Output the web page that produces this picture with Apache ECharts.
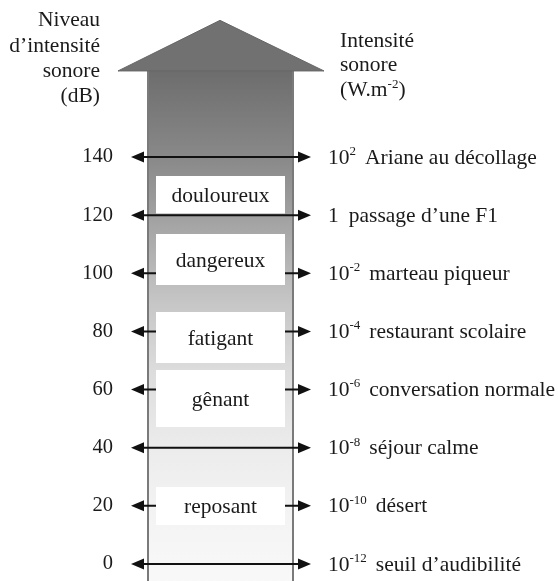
<!DOCTYPE html>
<html><head><meta charset="utf-8">
<script src="https://cdn.jsdelivr.net/npm/echarts@6/dist/echarts.min.js"></script>
<style>html,body{margin:0;padding:0;background:#fff}#c{width:558px;height:581px}</style>
</head><body><div id="c"></div>
<script>
// ---- data ----
const levelsDb = [0, 20, 40, 60, 80, 100, 120, 140];
const intensityExp = [-12, -10, -8, -6, -4, -2, 0, 2];
const examples = ['seuil d’audibilité', 'désert', 'séjour calme', 'conversation normale',
  'restaurant scolaire', 'marteau piqueur', 'passage d’une F1', 'Ariane au décollage'];
const zoneNames = ['douloureux', 'dangereux', 'fatigant', 'gênant', 'reposant'];
const zoneHigh = [133.5, 113.5, 86.7, 66.7, 26.5];
const zoneLow = [120.6, 96, 69.1, 47.1, 13.4];
const leftTitle = ['Niveau', 'd’intensité', 'sonore', '(dB)'];
const rightTitle = ['Intensité', 'sonore'];
const rightUnit = ['(W.m', '-2', ')'];

// ---- layout (x axis value == pixel column) ----
const SHAFT_L = 148, SHAFT_R = 293, HEAD_L = 118, HEAD_R = 324, TIP_X = 220;
const TIP_V = 187, BASE_V = 169.6, BOTTOM_V = -8;
const ARR_L = 131, ARR_R = 311, HEAD_LEN = 13, HEAD_HALF = 5.5;
const BOX_L = 156, BOX_R = 285, LABEL_X = 328;
const FONT = '"Liberation Serif", "Times New Roman", serif';
const INK = '#1a1a1a';
const FS = 21.5;

const chart = echarts.init(document.getElementById('c'), null, {renderer: 'canvas'});

const richStyles = {
  b: {fontFamily: FONT, fontSize: FS, lineHeight: 26, fill: INK, color: INK},
  s: {fontFamily: FONT, fontSize: 13, lineHeight: 13, verticalAlign: 'top', fill: INK, color: INK},
  d: {fontFamily: FONT, fontSize: FS, lineHeight: 26, fill: INK, color: INK, padding: [0, 0, 0, 9]},
  d0: {fontFamily: FONT, fontSize: FS, lineHeight: 26, fill: INK, color: INK, padding: [0, 0, 0, 10]}
};

const shaftGradient = new echarts.graphic.LinearGradient(0, 0, 0, 1, [
  {offset: 0, color: '#6d6d6d'},
  {offset: 0.169, color: '#898989'},
  {offset: 0.30, color: '#a5a5a5'},
  {offset: 0.45, color: '#c6c6c6'},
  {offset: 0.58, color: '#dcdcdc'},
  {offset: 0.72, color: '#ebebeb'},
  {offset: 0.85, color: '#f3f3f3'},
  {offset: 1, color: '#f9f9f9'}
]);

const option = {
  animation: false,
  backgroundColor: '#ffffff',
  grid: {left: 121, right: 0, top: 157, bottom: 17},
  xAxis: {type: 'value', min: 121, max: 558, show: false},
  yAxis: {
    type: 'value', min: 0, max: 140, interval: 20,
    axisLine: {show: false}, axisTick: {show: false}, splitLine: {show: false},
    axisLabel: {fontFamily: FONT, fontSize: 20.5, color: INK, margin: 8}
  },
  graphic: [
    {
      type: 'text', x: 100, y: 8,
      style: {
        text: leftTitle.join('\n'), font: FS + 'px ' + FONT, fill: INK,
        align: 'right', textAlign: 'right', verticalAlign: 'top', textVerticalAlign: 'top',
        lineHeight: 25.3
      }
    },
    {
      type: 'text', x: 340, y: 29,
      style: {
        text: rightTitle.map(t => '{t|' + t + '}').join('\n') + '\n{t|' + rightUnit[0] + '}{s|' + rightUnit[1] + '}{t|' + rightUnit[2] + '}',
        align: 'left', textAlign: 'left', verticalAlign: 'top', textVerticalAlign: 'top',
        rich: {
          t: {fontFamily: FONT, fontSize: FS, lineHeight: 24.5, fill: INK, color: INK},
          s: {fontFamily: FONT, fontSize: 13, lineHeight: 13, verticalAlign: 'top', fill: INK, color: INK}
        }
      }
    }
  ],
  series: [
    {
      type: 'custom', name: 'arrow', clip: false, z: 1,
      data: [[0, 0]],
      renderItem: function (params, api) {
        const p = (x, v) => api.coord([x, v]);
        const tip = p(TIP_X, TIP_V), hl = p(HEAD_L, BASE_V), hr = p(HEAD_R, BASE_V);
        const sl = p(SHAFT_L, BASE_V), sr = p(SHAFT_R, BASE_V);
        const bl = p(SHAFT_L, BOTTOM_V), br = p(SHAFT_R, BOTTOM_V);
        return {
          type: 'group', children: [
            {type: 'polygon', shape: {points: [sl, sr, br, bl]}, style: {fill: shaftGradient}},
            {type: 'line', shape: {x1: sl[0], y1: sl[1], x2: bl[0], y2: bl[1]}, style: {stroke: '#7a7a7a', lineWidth: 2}},
            {type: 'line', shape: {x1: sr[0], y1: sr[1], x2: br[0], y2: br[1]}, style: {stroke: '#7a7a7a', lineWidth: 2}},
            {type: 'polygon', shape: {points: [tip, hr, hl]}, style: {fill: '#717171', stroke: '#666666', lineWidth: 1}}
          ]
        };
      }
    },
    {
      type: 'custom', name: 'levels', clip: false, z: 2,
      data: levelsDb.map((v, i) => [0, v, i]),
      renderItem: function (params, api) {
        const v = api.value(1);
        const a = api.coord([ARR_L, v]), b = api.coord([ARR_R, v]);
        const y = a[1];
        return {
          type: 'group', children: [
            {type: 'line', shape: {x1: a[0] + HEAD_LEN - 1, y1: y, x2: b[0] - HEAD_LEN + 1, y2: y}, style: {stroke: '#111', lineWidth: 2}},
            {type: 'polygon', shape: {points: [[a[0], y], [a[0] + HEAD_LEN, y - HEAD_HALF], [a[0] + HEAD_LEN, y + HEAD_HALF]]}, style: {fill: '#111'}},
            {type: 'polygon', shape: {points: [[b[0], y], [b[0] - HEAD_LEN, y - HEAD_HALF], [b[0] - HEAD_LEN, y + HEAD_HALF]]}, style: {fill: '#111'}}
          ]
        };
      }
    },
    {
      type: 'custom', name: 'zones', clip: false, z: 3,
      data: zoneNames.map((n, i) => [zoneLow[i], zoneHigh[i], i]),
      renderItem: function (params, api) {
        const i = api.value(2);
        const tl = api.coord([BOX_L, api.value(1)]), br = api.coord([BOX_R, api.value(0)]);
        return {
          type: 'group', children: [
            {type: 'rect', shape: {x: tl[0], y: tl[1], width: br[0] - tl[0], height: br[1] - tl[1]}, style: {fill: '#ffffff'}},
            {type: 'text', x: (tl[0] + br[0]) / 2, y: (tl[1] + br[1]) / 2 + 1.5,
              style: {text: zoneNames[i], font: FS + 'px ' + FONT, fill: INK,
                align: 'center', textAlign: 'center', verticalAlign: 'middle', textVerticalAlign: 'middle'}}
          ]
        };
      }
    },
    {
      type: 'custom', name: 'intensity', clip: false, z: 4,
      data: levelsDb.map((v, i) => [0, v, i]),
      renderItem: function (params, api) {
        const i = api.value(2);
        const pt = api.coord([LABEL_X, api.value(1)]);
        const e = intensityExp[i];
        const txt = e === 0
          ? '{b|1}{d0|' + examples[i] + '}'
          : '{b|10}{s|' + e + '}{d|' + examples[i] + '}';
        return {
          type: 'text', x: pt[0], y: pt[1] + 1,
          style: {text: txt, rich: richStyles,
            align: 'left', textAlign: 'left', verticalAlign: 'middle', textVerticalAlign: 'middle'}
        };
      }
    }
  ]
};
chart.setOption(option);
</script>
</body></html>
